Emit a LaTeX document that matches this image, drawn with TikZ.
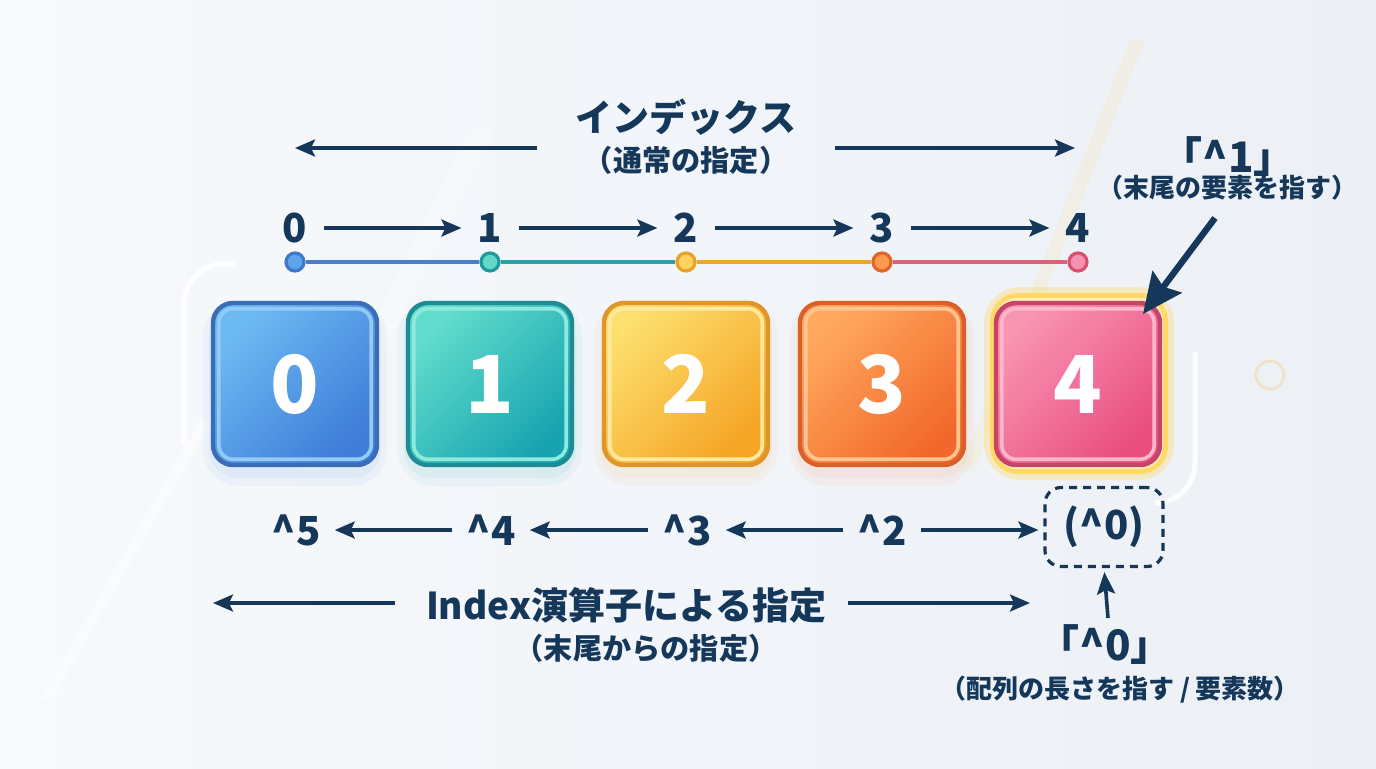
\documentclass[tikz,border=0pt]{standalone}
\usepackage{fontspec}
\setmainfont{Noto Sans CJK JP}
\usetikzlibrary{arrows.meta,calc}
\definecolor{navy}{HTML}{15375A}
\definecolor{bgA}{HTML}{F7F9FC}
\definecolor{bgB}{HTML}{ECF0F5}
% box colours
\definecolor{c0a}{HTML}{6DBAF2}\definecolor{c0b}{HTML}{3F7DD9}\definecolor{c0d}{HTML}{3A6DB6}\definecolor{c0i}{HTML}{94CBF6}
\definecolor{c1a}{HTML}{62DDCD}\definecolor{c1b}{HTML}{17A3B0}\definecolor{c1d}{HTML}{1E8C93}\definecolor{c1i}{HTML}{8FE9DD}
\definecolor{c2a}{HTML}{FDDF6E}\definecolor{c2b}{HTML}{F5A424}\definecolor{c2d}{HTML}{E0952A}\definecolor{c2i}{HTML}{FFE9A0}
\definecolor{c3a}{HTML}{FFAA5E}\definecolor{c3b}{HTML}{F2672B}\definecolor{c3d}{HTML}{DA602A}\definecolor{c3i}{HTML}{FFC491}
\definecolor{c4a}{HTML}{F894B4}\definecolor{c4b}{HTML}{EA4E80}\definecolor{c4d}{HTML}{C84368}\definecolor{c4i}{HTML}{FBB8CD}
\definecolor{glow}{HTML}{FFD966}
% timeline colours
\definecolor{l0}{HTML}{4A80CA}\definecolor{l1}{HTML}{27A2A6}\definecolor{l2}{HTML}{EFA532}\definecolor{l3}{HTML}{E0607A}
\definecolor{d0f}{HTML}{5FA3EA}\definecolor{d1f}{HTML}{62D8C8}\definecolor{d2f}{HTML}{FFD35E}\definecolor{d3f}{HTML}{FF9A4C}\definecolor{d4f}{HTML}{F592B2}
\definecolor{d0d}{HTML}{3E78C8}\definecolor{d1d}{HTML}{1E9A9E}\definecolor{d2d}{HTML}{E8A22A}\definecolor{d3d}{HTML}{E0672A}\definecolor{d4d}{HTML}{D9506F}
\tikzset{
  arr/.style={draw=navy, line width=1.6pt, -{Stealth[length=10pt,width=8.5pt,inset=2pt]}},
  bigarr/.style={draw=navy, line width=3.2pt, -{Stealth[length=20pt,width=18pt,inset=3pt]}},
  midarr/.style={draw=navy, line width=1.8pt, -{Stealth[length=11pt,width=9pt,inset=2pt]}},
  idx/.style={text=navy, font=\bfseries\fontsize{20}{22}\selectfont, inner xsep=8pt, inner ysep=2pt},
  hat/.style={text=navy, font=\bfseries\fontsize{20}{22}\selectfont, inner xsep=7pt, inner ysep=2pt},
  cellshape/.style={minimum width=82pt, minimum height=81pt, rounded corners=10pt, line width=2.2pt},
  celltext/.style={cellshape, text=white, font=\bfseries\fontsize{40}{44}\selectfont},
  dot/.style={circle, minimum size=9pt, inner sep=0pt, line width=1.6pt},
  seg/.style={line width=2.2pt},
  lbl/.style={text=navy, font=\bfseries\fontsize{18.5}{20}\selectfont, inner sep=0pt},
  sub/.style={text=navy, font=\bfseries\fontsize{14.6}{17}\selectfont, inner sep=0pt},
  small/.style={text=navy, font=\bfseries\fontsize{13}{15}\selectfont, inner sep=0pt},
}
\begin{document}
\begin{tikzpicture}[x=0.5pt,y=-0.5pt]
\useasboundingbox (0,0) rectangle (1376,768);
% background
\shade[left color=bgA, right color=bgB] (0,0) rectangle (1376,768);
\fill[white, opacity=0.30] (300,470) -- (470,130) -- (495,130) -- (325,470) -- cycle;
\fill[glow, opacity=0.12] (960,470) -- (1130,40) -- (1145,40) -- (975,470) -- cycle;
\fill[white, opacity=0.45] (40,700) -- (200,420) -- (212,420) -- (52,700) -- cycle;
% faint decorative brackets
\draw[white, line width=2.5pt, opacity=0.9, rounded corners=20pt] (184,445) -- (184,264) -- (235,264);
\draw[white, line width=2.5pt, opacity=0.9, rounded corners=20pt] (1195,352) -- (1195,503) -- (1160,503);
\draw[glow!60!orange, line width=1.5pt, opacity=0.25] (1270,375) circle (14);

% title
\node[lbl] (ttl) at (686,117) {インデックス};
\node[sub] (tsub) at (686,160) {（通常の指定）};
\coordinate (tla) at (537,148); \coordinate (tlb) at (295,148);
\coordinate (tra) at (835,148); \coordinate (trb) at (1075,148);
\draw[arr] (tla) -- (tlb);
\draw[arr] (tra) -- (trb);

% index numbers
\foreach \i/\x in {0/295,1/490,2/686,3/882,4/1078}{
  \node[idx] (n\i) at (\x,228) {\i};
}
\draw[arr] (n0) -- (n1);
\draw[arr] (n1) -- (n2);
\draw[arr] (n2) -- (n3);
\draw[arr] (n3) -- (n4);

% timeline
\foreach \i/\x in {0/295,1/490,2/686,3/882,4/1078}{
  \node[dot, fill=d\i f, draw=d\i d] (d\i) at (\x,262) {};
}
\draw[seg, l0] (d0) -- (d1);
\draw[seg, l1] (d1) -- (d2);
\draw[seg, l2] (d2) -- (d3);
\draw[seg, l3] (d3) -- (d4);

% soft glow under cells
\foreach \x/\c in {295/c0b,490/c1b,686/c2b,882/c3b}{
  \fill[\c, opacity=0.05, rounded corners=18pt] (\x-92,300) rectangle (\x+92,486);
  \fill[\c, opacity=0.06, rounded corners=14pt] (\x-86,306) rectangle (\x+86,478);
}
\fill[glow, opacity=0.35, rounded corners=18pt] (984,287) rectangle (1174,480);
\fill[glow, rounded corners=14pt] (990,293) rectangle (1168,474);
\fill[glow!45!white, rounded corners=11pt] (995,298) rectangle (1163,469);

% cells
\foreach \i/\x in {0/295,1/490,2/686,3/882,4/1078}{
  \colorlet{ta}{c\i a}\colorlet{tb}{c\i b}\colorlet{td}{c\i d}\colorlet{ti}{c\i i}
  \node[cellshape, top color=ta, bottom color=tb, shading angle=45, draw=td] (b\i) at (\x,384) {};
  \draw[ti, line width=1.8pt, rounded corners=7pt]
     ($(b\i.north west)+(8,8)$) rectangle ($(b\i.south east)+(-8,-8)$);
  \node[celltext] (v\i) at (b\i.center) {\i};
}

% ^1 label
\node[text=navy, font=\bfseries\fontsize{21}{24}\selectfont, inner sep=0pt] (p1) at (1228,157) {「\textasciicircum 1」};
\node[small] (p1s) at (1227,188) {（末尾の要素を指す）};
\coordinate (a1s) at (1215,218);
\coordinate (a1e) at (1143,314);
\draw[bigarr] (a1s) -- (a1e);

% bottom row
\node[hat] (m5) at (296,530) {\textasciicircum 5};
\node[hat] (m4) at (491,530) {\textasciicircum 4};
\node[hat] (m3) at (687,530) {\textasciicircum 3};
\node[hat] (m2) at (882,530) {\textasciicircum 2};
\node[text=navy, font=\bfseries\fontsize{20}{22}\selectfont, draw=navy, dash pattern=on 4pt off 3pt,
      line width=1.6pt, rounded corners=8pt, minimum width=59pt, minimum height=39.5pt] (m0) at (1104,527) {(\textasciicircum 0)};
\draw[arr] (m4) -- (m5);
\draw[arr] (m3) -- (m4);
\draw[arr] (m2) -- (m3);
\draw[arr, shorten >=2.5pt] (m2.east) -- (m2.east -| m0.west);

% Index operator label
\node[lbl] (ix) at (626,605) {Index演算子による指定};
\node[sub] (ixs) at (646,648) {（末尾からの指定）};
\coordinate (ila) at (395,603); \coordinate (ilb) at (213,603);
\coordinate (ira) at (848,603); \coordinate (irb) at (1030,603);
\draw[arr] (ila) -- (ilb);
\draw[arr] (ira) -- (irb);

% ^0 label
\node[text=navy, font=\bfseries\fontsize{21}{24}\selectfont, inner sep=0pt] (z0) at (1105,645) {「\textasciicircum 0」};
\node[small] (z0s) at (1120,690) {（配列の長さを指す / 要素数）};
\coordinate (z0a) at (1108,618);
\draw[midarr, shorten >=2pt] (z0a) -- (m0.south);
\end{tikzpicture}
\end{document}
